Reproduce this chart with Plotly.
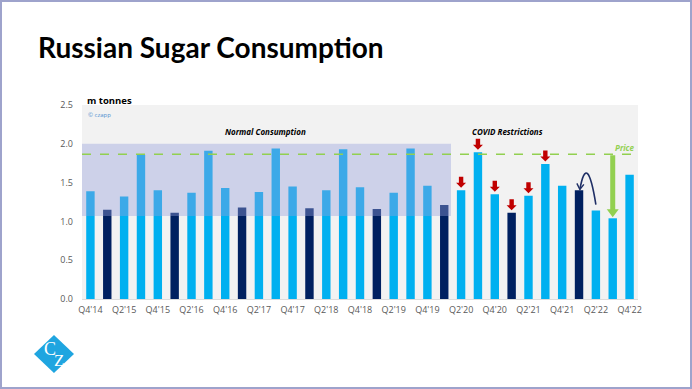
import plotly.graph_objects as go

# ---------------- data ----------------
quarters = ["Q4'14", "Q1'15", "Q2'15", "Q3'15", "Q4'15", "Q1'16", "Q2'16", "Q3'16", "Q4'16",
            "Q1'17", "Q2'17", "Q3'17", "Q4'17", "Q1'18", "Q2'18", "Q3'18", "Q4'18",
            "Q1'19", "Q2'19", "Q3'19", "Q4'19", "Q1'20", "Q2'20", "Q3'20", "Q4'20",
            "Q1'21", "Q2'21", "Q3'21", "Q4'21", "Q1'22", "Q2'22", "Q3'22", "Q4'22"]
consumption = [1.39, 1.15, 1.32, 1.86, 1.40, 1.11, 1.37, 1.91, 1.43,
               1.18, 1.38, 1.94, 1.45, 1.17, 1.40, 1.93, 1.44,
               1.16, 1.37, 1.94, 1.46, 1.21, 1.40, 1.89, 1.35,
               1.11, 1.33, 1.74, 1.46, 1.40, 1.14, 1.04, 1.60]
covid_flagged = ["Q2'20", "Q3'20", "Q4'20", "Q1'21", "Q2'21", "Q3'21"]
price_level = 1.865
normal_band = [1.07, 2.0]
normal_end_quarter = "Q1'20"
price_drop_quarter = "Q3'22"
ytick_vals = [0.0, 0.5, 1.0, 1.5, 2.0, 2.5]

# ---------------- geometry ----------------
W, H = 692, 389
L, R, T, B = 82, 54, 105, 90
PW, PH = W - L - R, H - T - B
N = len(quarters)
YMAX = 2.5
PX_CAT = PW / N          # px per category
PX_UNIT = PH / YMAX      # px per y unit

LIGHT = "#00b0f0"
DARK = "#002060"
GREEN = "#92d050"
RED = "#c00000"

xs = list(range(N))
colors = [DARK if q.startswith("Q1") else LIGHT for q in quarters]

fig = go.Figure()
fig.add_trace(go.Bar(x=xs, y=consumption, marker=dict(color=colors, line=dict(width=0)),
                     width=0.5, hoverinfo="skip"))

shapes = []

# Normal consumption band (semi-transparent overlay)
end_idx = quarters.index(normal_end_quarter)
shapes.append(dict(type="rect", xref="x", yref="y", x0=-0.5, x1=end_idx + 0.4,
                   y0=normal_band[0], y1=normal_band[1],
                   fillcolor="rgba(150,160,220,0.40)", line=dict(width=0), layer="above"))

# Price line
shapes.append(dict(type="line", xref="x", yref="y", x0=-0.5, x1=N - 0.5,
                   y0=price_level, y1=price_level,
                   line=dict(color=GREEN, width=1.6, dash="dash"), layer="above"))


def arrow_path(cx, tip_y, pts):
    segs = []
    for i, (dx, dy) in enumerate(pts):
        x = cx + dx / PX_CAT
        y = tip_y + dy / PX_UNIT
        segs.append(("M" if i == 0 else "L") + f"{x:.4f},{y:.4f}")
    return " ".join(segs) + " Z"


# Red down arrows
red_pts = [(0, 0), (-5, 5), (-2.2, 5), (-2.2, 11), (2.2, 11), (2.2, 5), (5, 5)]
for q in covid_flagged:
    i = quarters.index(q)
    tip = consumption[i] + 2.5 / PX_UNIT
    shapes.append(dict(type="path", xref="x", yref="y", path=arrow_path(i, tip, red_pts),
                       fillcolor=RED, line=dict(width=0), layer="above"))

# Green price arrow
gi = quarters.index(price_drop_quarter)
g_tip = consumption[gi] + 1.0 / PX_UNIT
g_len = (price_level - consumption[gi]) * PX_UNIT - 2
green_pts = [(0, 0), (-6, 8), (-2.5, 8), (-2.5, g_len), (2.5, g_len), (2.5, 8), (6, 8)]
shapes.append(dict(type="path", xref="x", yref="y", path=arrow_path(gi, g_tip, green_pts),
                   fillcolor=GREEN, line=dict(width=0), layer="above"))

# Curved navy arrow from Q1'22 to Q2'22
ci = quarters.index("Q1'22")
x0 = ci + 0.05
y0 = consumption[ci] + 1 / PX_UNIT
cx_ = ci + 0.48
cy_ = consumption[ci] + 40 / PX_UNIT
x2 = ci + 1.0
y2 = consumption[ci + 1] + 6 / PX_UNIT
shapes.append(dict(type="path", xref="x", yref="y",
                   path=f"M{x0:.4f},{y0:.4f} Q{cx_:.4f},{cy_:.4f} {x2:.4f},{y2:.4f}",
                   line=dict(color="#1f2f66", width=1.6), layer="above"))
ah = [(x0 - 3 / PX_CAT, y0 + 6 / PX_UNIT), (x0, y0), (x0 + 4 / PX_CAT, y0 + 5 / PX_UNIT)]
shapes.append(dict(type="path", xref="x", yref="y",
                   path="M{:.4f},{:.4f} L{:.4f},{:.4f} L{:.4f},{:.4f}".format(*ah[0], *ah[1], *ah[2]),
                   line=dict(color="#1f2f66", width=1.4), layer="above"))


def px(x):
    return (x - L) / PW


def py(y):
    return (H - B - y) / PH


# Slide border
shapes.append(dict(type="rect", xref="paper", yref="paper", x0=px(1), x1=px(W - 1),
                   y0=py(H - 1), y1=py(1), line=dict(color="#9ea3cc", width=2),
                   fillcolor="rgba(0,0,0,0)", layer="above"))

# Logo diamond
lcx, lcy, lw, lh = 54, 354, 20, 19
shapes.append(dict(type="path", xref="paper", yref="paper",
                   path=f"M{px(lcx):.4f},{py(lcy - lh):.4f} L{px(lcx + lw):.4f},{py(lcy):.4f} "
                        f"L{px(lcx):.4f},{py(lcy + lh):.4f} L{px(lcx - lw):.4f},{py(lcy):.4f} Z",
                   fillcolor="#1fa5e0", line=dict(width=0), layer="above"))

annotations = [
    dict(text="<b>Russian Sugar Consumption</b>", xref="paper", yref="paper",
         x=px(36), y=py(47), xanchor="left", yanchor="middle", showarrow=False,
         font=dict(family="Lato", size=28, color="#000000")),
    dict(text="<b>m tonnes</b>", xref="paper", yref="paper", x=px(85), y=py(100),
         xanchor="left", yanchor="middle", showarrow=False,
         font=dict(family="Open Sans", size=9.5, color="#000000")),
    dict(text="© czapp", xref="paper", yref="paper", x=px(86), y=py(115),
         xanchor="left", yanchor="middle", showarrow=False,
         font=dict(family="Open Sans", size=6, color="#4f8fd0")),
    dict(text="<b><i>Normal Consumption</i></b>", xref="paper", yref="paper", x=px(265), y=py(131),
         xanchor="center", yanchor="middle", showarrow=False,
         font=dict(family="Open Sans", size=8, color="#000000")),
    dict(text="<b><i>COVID Restrictions</i></b>", xref="paper", yref="paper", x=px(507), y=py(131),
         xanchor="center", yanchor="middle", showarrow=False,
         font=dict(family="Open Sans", size=8, color="#000000")),
    dict(text="<b><i>Price</i></b>", xref="paper", yref="paper", x=px(636), y=py(147),
         xanchor="right", yanchor="middle", showarrow=False,
         font=dict(family="Open Sans", size=8, color=GREEN)),
    dict(text="C", xref="paper", yref="paper", x=px(49.5), y=py(349), height=14,
         xanchor="center", yanchor="middle", showarrow=False,
         font=dict(family="Liberation Serif", size=18, color="#ffffff")),
    dict(text="Z", xref="paper", yref="paper", x=px(59), y=py(360), height=14,
         xanchor="center", yanchor="middle", showarrow=False,
         font=dict(family="Liberation Serif", size=17, color="#ffffff")),
]

fig.update_layout(
    width=W, height=H,
    margin=dict(l=L, r=R, t=T, b=B, pad=0),
    paper_bgcolor="#ffffff",
    plot_bgcolor="#f2f2f2",
    showlegend=False,
    shapes=shapes,
    annotations=annotations,
    font=dict(family="Open Sans", color="#595959", size=9),
    xaxis=dict(range=[-0.5, N - 0.5], tickmode="array", tickvals=xs[::2], ticktext=quarters[::2],
               showgrid=False, zeroline=False, showline=True, linecolor="#dcdcdc", linewidth=1,
               ticks="", ticklabelstandoff=2, tickfont=dict(size=9, color="#595959"), fixedrange=True),
    yaxis=dict(range=[0, YMAX], tickmode="array", tickvals=ytick_vals,
               ticktext=[f"{v:.1f}" for v in ytick_vals],
               showgrid=False, zeroline=False, showline=False, ticks="", ticklabelstandoff=8,
               tickfont=dict(size=9, color="#595959"), fixedrange=True),
)

fig.write_html("out.html", config={"displayModeBar": False},
               post_script="document.body.style.margin='0';document.body.style.overflow='hidden';")
